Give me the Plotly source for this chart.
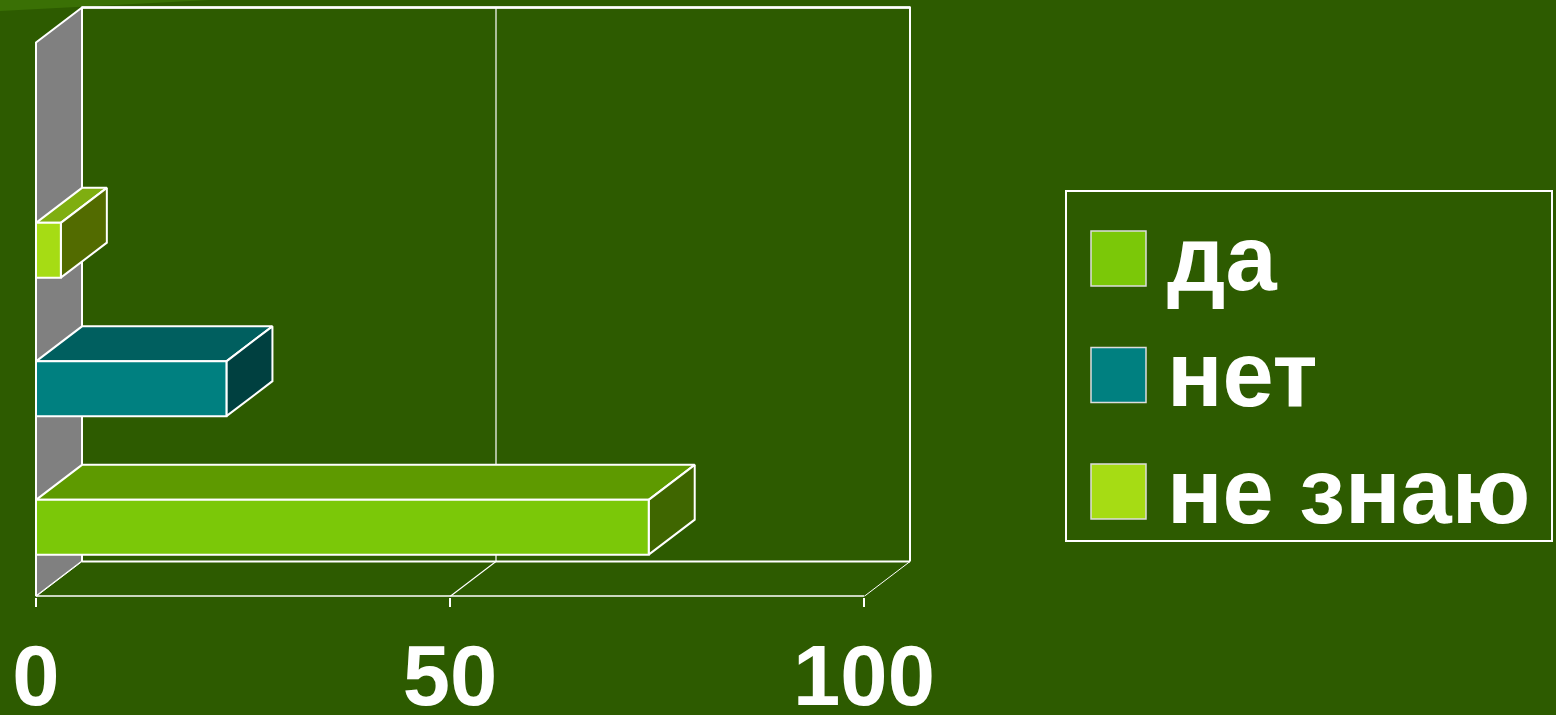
import plotly.graph_objects as go

# ---- data ----
series = ["да", "нет", "не знаю"]
values = [74, 23, 3]
front_colors = ["#7bc808", "#008080", "#a6dc14"]
top_colors = ["#5e9a00", "#005f5f", "#7fae10"]
side_colors = ["#3f6600", "#004040", "#526b00"]
tick_vals = [0, 50, 100]
tick_text = ["0", "50", "100"]

W, H = 1556, 715
BG = "#2d5b00"
X0_PX = 36.0
PX_PER_UNIT = 8.28
DX = 46 / PX_PER_UNIT          # depth offset in value units
Y_PX_PER_UNIT = 138.5
DY = 35 / Y_PX_PER_UNIT        # depth offset in category units
HALF = 0.198                   # half bar thickness (category units)
Y_BOTTOM, Y_TOP = -0.5, 3.5
XMAX = 100

def P(v, y, d):
    return v + d * DX, y + d * DY

def poly(pts, fill, width=2, color="white"):
    xs = [p[0] for p in pts] + [pts[0][0]]
    ys = [p[1] for p in pts] + [pts[0][1]]
    return go.Scatter(x=xs, y=ys, mode="lines", fill="toself", fillcolor=fill,
                      line=dict(color=color, width=width), hoverinfo="skip",
                      showlegend=False)

def line(pts, width=1):
    return go.Scatter(x=[p[0] for p in pts], y=[p[1] for p in pts], mode="lines",
                      line=dict(color="white", width=width), hoverinfo="skip",
                      showlegend=False)

fig = go.Figure()

# side wall
fig.add_trace(poly([P(0, Y_BOTTOM, 0), P(0, Y_TOP, 0), P(0, Y_TOP, 1), P(0, Y_BOTTOM, 1)], "#808080"))
# floor
fig.add_trace(poly([P(0, Y_BOTTOM, 0), P(XMAX, Y_BOTTOM, 0), P(XMAX, Y_BOTTOM, 1), P(0, Y_BOTTOM, 1)], BG, width=1))
fig.add_trace(line([P(0, Y_BOTTOM, 0), P(XMAX, Y_BOTTOM, 0)], width=2.5))
# back wall
fig.add_trace(line([P(0, Y_BOTTOM, 1), P(0, Y_TOP, 1), P(XMAX, Y_TOP, 1), P(XMAX, Y_BOTTOM, 1)], width=2))
fig.add_trace(line([P(0, Y_BOTTOM, 1), P(XMAX, Y_BOTTOM, 1)], width=2))
fig.add_trace(line([P(0, Y_TOP, 1), P(XMAX, Y_TOP, 1)], width=2.5))
# gridlines
for tv in tick_vals[1:-1]:
    fig.add_trace(line([P(tv, Y_BOTTOM, 0), P(tv, Y_BOTTOM, 1), P(tv, Y_TOP, 1)], width=1.2))

# bars
for i, (name, val) in enumerate(zip(series, values)):
    c = i
    lo, hi = c - HALF, c + HALF
    fig.add_trace(poly([P(0, hi, 0), P(val, hi, 0), P(val, hi, 1), P(0, hi, 1)], top_colors[i]))
    fig.add_trace(poly([P(val, lo, 0), P(val, hi, 0), P(val, hi, 1), P(val, lo, 1)], side_colors[i]))
    fig.add_trace(poly([P(0, lo, 0), P(val, lo, 0), P(val, hi, 0), P(0, hi, 0)], front_colors[i]))

shapes = []
annotations = []
# lighter band at top-left corner
shapes.append(dict(type="path", xref="paper", yref="paper",
                   path=f"M 0 1 L {210/W} 1 L 0 {1-11/H} Z",
                   fillcolor="#3a7005", line=dict(width=0), layer="below"))
# legend box
shapes.append(dict(type="rect", xref="paper", yref="paper",
                   x0=1066/W, x1=1552/W, y0=1-541/H, y1=1-191/H,
                   line=dict(color="white", width=2), fillcolor="rgba(0,0,0,0)"))
sq_tops = [231, 347.5, 464]
for i, name in enumerate(series):
    t = sq_tops[i]
    shapes.append(dict(type="rect", xref="paper", yref="paper",
                       x0=1091/W, x1=1146/W, y0=1-(t+55)/H, y1=1-t/H,
                       fillcolor=front_colors[i], line=dict(color="#dddddd", width=1.5)))
    annotations.append(dict(text=name, xref="paper", yref="paper",
                            x=1165/W, y=1-(t+27.5-1)/H, xanchor="left", yanchor="middle",
                            showarrow=False,
                            font=dict(family="Liberation Sans", size=92, color="white", weight="bold")))

fig.update_layout(
    width=W, height=H,
    margin=dict(l=0, r=0, t=0, b=0, autoexpand=False),
    paper_bgcolor=BG, plot_bgcolor=BG,
    showlegend=False,
    shapes=shapes, annotations=annotations,
    xaxis=dict(range=[-X0_PX / PX_PER_UNIT, (W - X0_PX) / PX_PER_UNIT],
               automargin=False,
               showgrid=False, zeroline=False, showline=False,
               tickmode="array", tickvals=tick_vals, ticktext=tick_text,
               ticks="outside", ticklen=9, tickwidth=2, tickcolor="white",
               ticklabelstandoff=-4,
               tickfont=dict(family="Liberation Sans", size=85, color="white", weight="bold"),
               fixedrange=True),
    yaxis=dict(domain=[(H - 596.5) / H, 1], range=[Y_BOTTOM, Y_BOTTOM + 596.5 / Y_PX_PER_UNIT],
               automargin=False, visible=False, fixedrange=True),
)

fig.write_html("out.html", config={"displayModeBar": False},
               post_script="document.body.style.margin='0';")
